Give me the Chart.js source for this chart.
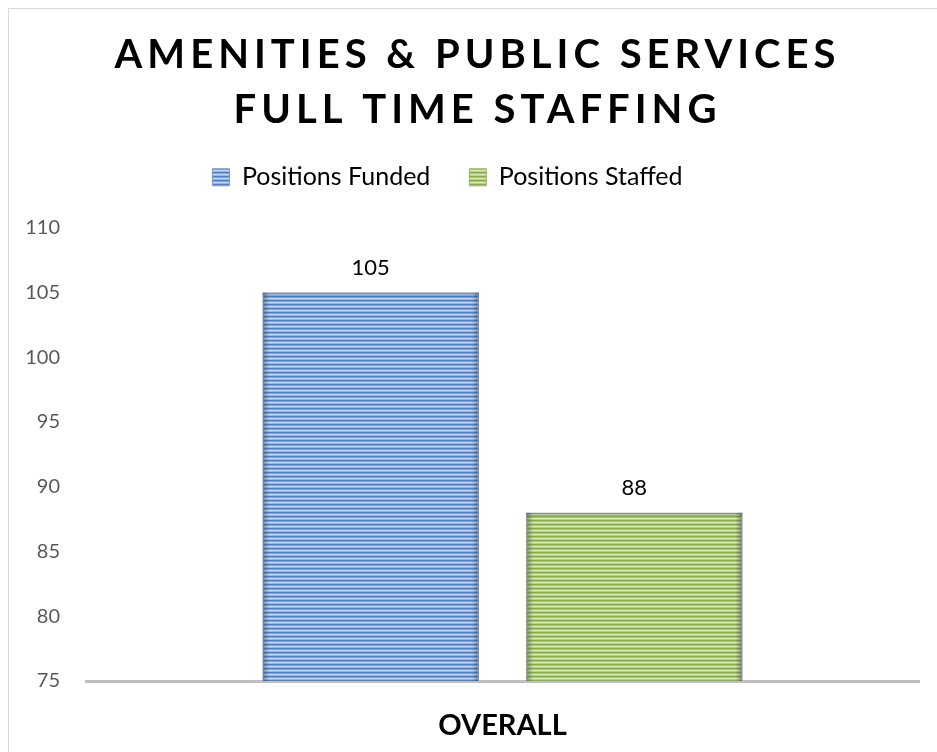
<!DOCTYPE html>
<html>
<head>
<meta charset="utf-8">
<script src="https://cdn.jsdelivr.net/npm/chart.js@4.4.1/dist/chart.umd.min.js"></script>
<style>
  html, body { margin: 0; padding: 0; background: #ffffff; }
  #wrap { position: relative; width: 937px; height: 752px; }
</style>
</head>
<body>
<div id="wrap"><canvas id="c" width="937" height="752"></canvas></div>
<script>
const categories = ['OVERALL'];
const seriesNames = ['Positions Funded', 'Positions Staffed'];
const fundedValues = [105];
const staffedValues = [88];
const yTickMin = 75;
const yTickMax = 110;
const yTickStep = 5;
const titleLines = ['AMENITIES & PUBLIC SERVICES', 'FULL TIME STAFFING'];

function stripes(colors) {
  const c = document.createElement('canvas');
  c.width = 1; c.height = colors.length;
  const x = c.getContext('2d');
  colors.forEach((col, i) => { x.fillStyle = col; x.fillRect(0, i, 1, 1); });
  return x.createPattern(c, 'repeat');
}
const blueFill = stripes(['#4f7fc0', '#7ea3d6', '#c5d7f0', '#97b6e0']);
const greenFill = stripes(['#8aad4c', '#a9c671', '#d9e8c0', '#b7d08a']);

const frame = {
  id: 'frame',
  beforeDraw(chart) {
    const ctx = chart.ctx;
    ctx.save();
    ctx.strokeStyle = '#d9d9d9';
    ctx.lineWidth = 1;
    ctx.strokeRect(8.5, 8.5, 2000, 2000);
    ctx.restore();
    if (chart.titleBlock && !chart.titleBlock._patched) {
      const t = chart.titleBlock; const od = t.draw.bind(t);
      t.draw = function (ca) { const c = chart.ctx; c.save(); c.letterSpacing = '5px'; c.translate(18, 0); od(ca); c.restore(); };
      t._patched = true;
    }
    if (chart.legend && !chart.legend._patched) {
      const l = chart.legend; const od = l.draw.bind(l);
      l.draw = function (ca) { const c = chart.ctx; c.save(); c.translate(-12, -28); od(ca); c.restore(); };
      l._patched = true;
    }
  }
};

const barShade = {
  id: 'barShade',
  afterDatasetsDraw(chart) {
    const ctx = chart.ctx;
    const area = chart.chartArea;
    chart.data.datasets.forEach((ds, di) => {
      const meta = chart.getDatasetMeta(di);
      meta.data.forEach((bar, i) => {
        const p = bar.getProps(['x', 'y', 'base', 'width'], true);
        const l = p.x - p.width / 2, r = p.x + p.width / 2;
        const top = p.y, bot = Math.min(p.base, area.bottom), w = 7;
        ctx.save();
        let g = ctx.createLinearGradient(l, 0, l + w, 0);
        g.addColorStop(0, 'rgba(40,55,80,0.45)'); g.addColorStop(1, 'rgba(40,55,80,0)');
        ctx.fillStyle = g; ctx.fillRect(l, top, w, bot - top);
        g = ctx.createLinearGradient(r, 0, r - w, 0);
        g.addColorStop(0, 'rgba(40,55,80,0.45)'); g.addColorStop(1, 'rgba(40,55,80,0)');
        ctx.fillStyle = g; ctx.fillRect(r - w, top, w, bot - top);
        g = ctx.createLinearGradient(0, top, 0, top + 5);
        g.addColorStop(0, 'rgba(40,55,80,0.35)'); g.addColorStop(1, 'rgba(40,55,80,0)');
        ctx.fillStyle = g; ctx.fillRect(l, top, r - l, 5);
        ctx.fillStyle = '#000000';
        ctx.font = '22px Lato';
        ctx.textAlign = 'center';
        ctx.textBaseline = 'middle';
        ctx.fillText(String(ds.data[i]), p.x, top - 25);
        ctx.restore();
      });
    });
  }
};

new Chart(document.getElementById('c'), {
  type: 'bar',
  data: {
    labels: categories,
    datasets: [
      { label: seriesNames[0], data: fundedValues, backgroundColor: blueFill, borderColor: '#7f97b8', borderWidth: 1 },
      { label: seriesNames[1], data: staffedValues, backgroundColor: greenFill, borderColor: '#9bb070', borderWidth: 1 }
    ]
  },
  options: {
    responsive: false,
    animation: false,
    devicePixelRatio: 1,
    categoryPercentage: 0.633,
    barPercentage: 0.82,
    layout: { padding: { left: 0, right: 18, top: 0, bottom: 0 } },
    plugins: {
      tooltip: { enabled: false },
      title: {
        display: true,
        text: titleLines,
        color: '#000000',
        font: { family: 'Lato', size: 40, weight: 'bold', lineHeight: 1.36 },
        padding: { top: 28, bottom: 17 }
      },
      legend: {
        display: true,
        position: 'top',
        labels: {
          color: '#000000',
          font: { family: 'Lato', size: 25 },
          boxWidth: 17,
          boxHeight: 17,
          padding: 39
        }
      }
    },
    scales: {
      x: {
        grid: { display: false, drawTicks: false },
        border: { display: true, color: '#bfbfbf', width: 3 },
        ticks: { color: '#000000', font: { family: 'Lato', size: 29, weight: 'bold' }, padding: 27 },
        afterFit(scale) { scale.height = 71; }
      },
      y: {
        min: yTickMin,
        max: yTickMax,
        grid: { display: false, drawTicks: false },
        border: { display: false },
        ticks: { stepSize: yTickStep, color: '#595959', font: { family: 'Lato', size: 20 }, padding: 26 },
        afterFit(scale) { scale.width = 86; }
      }
    }
  },
  plugins: [frame, barShade]
});
</script>
</body>
</html>
